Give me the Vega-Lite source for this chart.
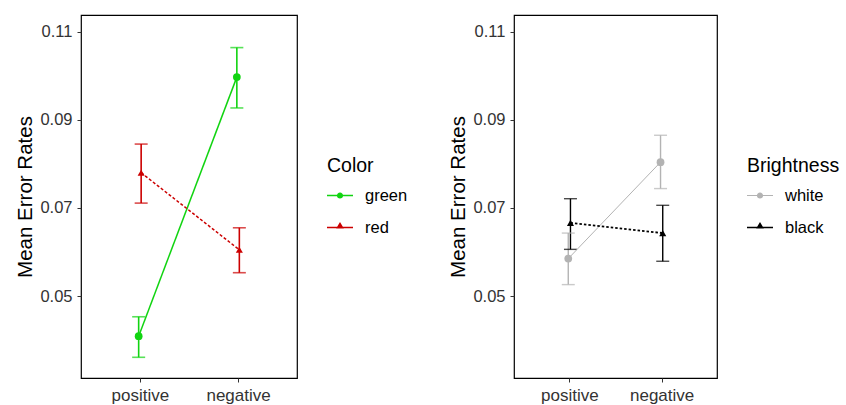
{
  "$schema": "https://vega.github.io/schema/vega-lite/v6.json",
  "padding": {"left": 15, "top": 14, "right": 0, "bottom": 0},
  "datasets": {
    "left": [
      {"cond": "positive", "group": "green", "mean": 0.0409, "lo": 0.0361, "hi": 0.0453},
      {"cond": "negative", "group": "green", "mean": 0.0997, "lo": 0.0927, "hi": 0.1064},
      {"cond": "positive", "group": "red", "mean": 0.0780, "lo": 0.0711, "hi": 0.0845},
      {"cond": "negative", "group": "red", "mean": 0.0605, "lo": 0.0553, "hi": 0.0655}
    ],
    "right": [
      {"cond": "positive", "group": "white", "mean": 0.0585, "lo": 0.0526, "hi": 0.0643},
      {"cond": "negative", "group": "white", "mean": 0.0804, "lo": 0.0744, "hi": 0.0865},
      {"cond": "positive", "group": "black", "mean": 0.0666, "lo": 0.0606, "hi": 0.0721},
      {"cond": "negative", "group": "black", "mean": 0.0643, "lo": 0.0579, "hi": 0.0706}
    ]
  },
  "spacing": 39,
  "hconcat": [
    {
      "width": 216,
      "height": 363,
      "data": {"name": "left"},
      "encoding": {
        "x": {"field": "cond", "type": "nominal", "sort": ["positive", "negative"], "scale": {"type": "point", "padding": 0.6}, "axis": {"title": null, "labelAngle": 0, "labelFontSize": 17}},
        "xOffset": {"field": "group", "type": "nominal", "scale": {"domain": ["green", "red"], "range": [-2.5, 2.5]}},
        "color": {"field": "group", "type": "nominal", "title": "Color", "scale": {"domain": ["green", "red"], "range": ["#11d411", "#cc0000"]}}
      },
      "layer": [
        {
          "mark": {"type": "rule", "strokeWidth": 1.6},
          "encoding": {
            "y": {"field": "lo", "type": "quantitative", "scale": {"domain": [0.0314, 0.1138], "nice": false, "zero": false}, "axis": {"values": [0.05, 0.07, 0.09, 0.11], "format": ".2f", "title": "Mean Error Rates"}},
            "y2": {"field": "hi"}
          }
        },
        {
          "mark": {"type": "tick", "size": 13, "thickness": 1.6},
          "encoding": {"y": {"field": "lo", "type": "quantitative"}}
        },
        {
          "mark": {"type": "tick", "size": 13, "thickness": 1.6},
          "encoding": {"y": {"field": "hi", "type": "quantitative"}}
        },
        {
          "transform": [{"filter": "datum.group === 'green'"}],
          "mark": {"type": "line", "strokeWidth": 1.5},
          "encoding": {"y": {"field": "mean", "type": "quantitative"}}
        },
        {
          "transform": [{"filter": "datum.group === 'red'"}],
          "mark": {"type": "line", "strokeWidth": 1.5, "strokeDash": [3, 2]},
          "encoding": {"y": {"field": "mean", "type": "quantitative"}}
        },
        {
          "transform": [{"filter": "datum.group === 'green'"}],
          "mark": {"type": "point", "shape": "circle", "filled": true, "size": 60, "opacity": 1},
          "encoding": {"y": {"field": "mean", "type": "quantitative"}}
        },
        {
          "transform": [{"filter": "datum.group === 'red'"}],
          "mark": {"type": "point", "shape": "triangle-up", "filled": true, "size": 50, "opacity": 1},
          "encoding": {"y": {"field": "mean", "type": "quantitative"}}
        },
        {
          "mark": {"type": "point", "filled": true, "size": 676, "opacity": 0},
          "encoding": {
            "y": {"field": "mean", "type": "quantitative"},
            "shape": {"field": "group", "type": "nominal", "title": "Color", "scale": {"domain": ["green", "red"], "range": ["M-1,-0.06H1V0.06H-1ZM-0.24,0A0.24,0.24,0,1,1,0.24,0A0.24,0.24,0,1,1,-0.24,0Z", "M-1,-0.06H1V0.06H-1ZM0,-0.42L0.3,0.08L-0.3,0.08Z"]}},
            "color": {"field": "group", "type": "nominal", "title": "Color", "legend": {"encode": {"symbols": {"update": {"opacity": {"value": 1}, "strokeWidth": {"value": 0}}}}}}
          }
        }
      ]
    },
    {
      "width": 203,
      "height": 363,
      "data": {"name": "right"},
      "encoding": {
        "x": {"field": "cond", "type": "nominal", "sort": ["positive", "negative"], "scale": {"type": "point", "padding": 0.6}, "axis": {"title": null, "labelAngle": 0, "labelFontSize": 17}},
        "xOffset": {"field": "group", "type": "nominal", "scale": {"domain": ["white", "black"], "range": [-2.2, 2.2]}},
        "color": {"field": "group", "type": "nominal", "title": "Brightness", "scale": {"domain": ["white", "black"], "range": ["#b3b3b3", "#000000"]}}
      },
      "layer": [
        {
          "mark": {"type": "rule", "strokeWidth": 1.4},
          "encoding": {
            "y": {"field": "lo", "type": "quantitative", "scale": {"domain": [0.0314, 0.1138], "nice": false, "zero": false}, "axis": {"values": [0.05, 0.07, 0.09, 0.11], "format": ".2f", "title": "Mean Error Rates"}},
            "y2": {"field": "hi"}
          }
        },
        {
          "mark": {"type": "tick", "size": 13, "thickness": 1.4},
          "encoding": {"y": {"field": "lo", "type": "quantitative"}}
        },
        {
          "mark": {"type": "tick", "size": 13, "thickness": 1.4},
          "encoding": {"y": {"field": "hi", "type": "quantitative"}}
        },
        {
          "transform": [{"filter": "datum.group === 'white'"}],
          "mark": {"type": "line", "strokeWidth": 1},
          "encoding": {"y": {"field": "mean", "type": "quantitative"}}
        },
        {
          "transform": [{"filter": "datum.group === 'black'"}],
          "mark": {"type": "line", "strokeWidth": 1.8, "strokeDash": [2.5, 2]},
          "encoding": {"y": {"field": "mean", "type": "quantitative"}}
        },
        {
          "transform": [{"filter": "datum.group === 'white'"}],
          "mark": {"type": "point", "shape": "circle", "filled": true, "size": 60, "opacity": 1},
          "encoding": {"y": {"field": "mean", "type": "quantitative"}}
        },
        {
          "transform": [{"filter": "datum.group === 'black'"}],
          "mark": {"type": "point", "shape": "triangle-up", "filled": true, "size": 50, "opacity": 1},
          "encoding": {"y": {"field": "mean", "type": "quantitative"}}
        },
        {
          "mark": {"type": "point", "filled": true, "size": 676, "opacity": 0},
          "encoding": {
            "y": {"field": "mean", "type": "quantitative"},
            "shape": {"field": "group", "type": "nominal", "title": "Brightness", "scale": {"domain": ["white", "black"], "range": ["M-1,-0.04H1V0.04H-1ZM-0.24,0A0.24,0.24,0,1,1,0.24,0A0.24,0.24,0,1,1,-0.24,0Z", "M-1,-0.06H1V0.06H-1ZM0,-0.42L0.3,0.08L-0.3,0.08Z"]}},
            "color": {"field": "group", "type": "nominal", "title": "Brightness", "legend": {"encode": {"symbols": {"update": {"opacity": {"value": 1}, "strokeWidth": {"value": 0}}}}}}
          }
        }
      ]
    }
  ],
  "resolve": {
    "scale": {"color": "independent", "shape": "independent", "xOffset": "independent", "y": "independent", "x": "independent"},
    "legend": {"color": "independent", "shape": "independent"}
  },
  "config": {
    "font": "Liberation Sans",
    "view": {"stroke": "#000000", "strokeWidth": 1.2},
    "axis": {
      "domain": false, "grid": false,
      "tickColor": "#333333", "tickSize": 4, "tickWidth": 1,
      "labelColor": "#333333", "labelFont": "Liberation Sans", "labelFontSize": 16.5, "labelPadding": 5,
      "titleFont": "Liberation Sans", "titleFontSize": 20.5, "titleFontWeight": "normal", "titleColor": "#000000", "titlePadding": 4
    },
    "legend": {
      "offset": 30,
      "titleFont": "Liberation Sans", "titleFontSize": 19.5, "titleFontWeight": "normal", "titleColor": "#000000", "titlePadding": 6,
      "labelFont": "Liberation Sans", "labelFontSize": 16.5, "labelColor": "#000000", "labelOffset": 12,
      "rowPadding": 10, "symbolSize": 676, "symbolStrokeWidth": 0, "symbolOpacity": 1,
      "layout": {"right": {"anchor": "middle"}}
    }
  }
}
